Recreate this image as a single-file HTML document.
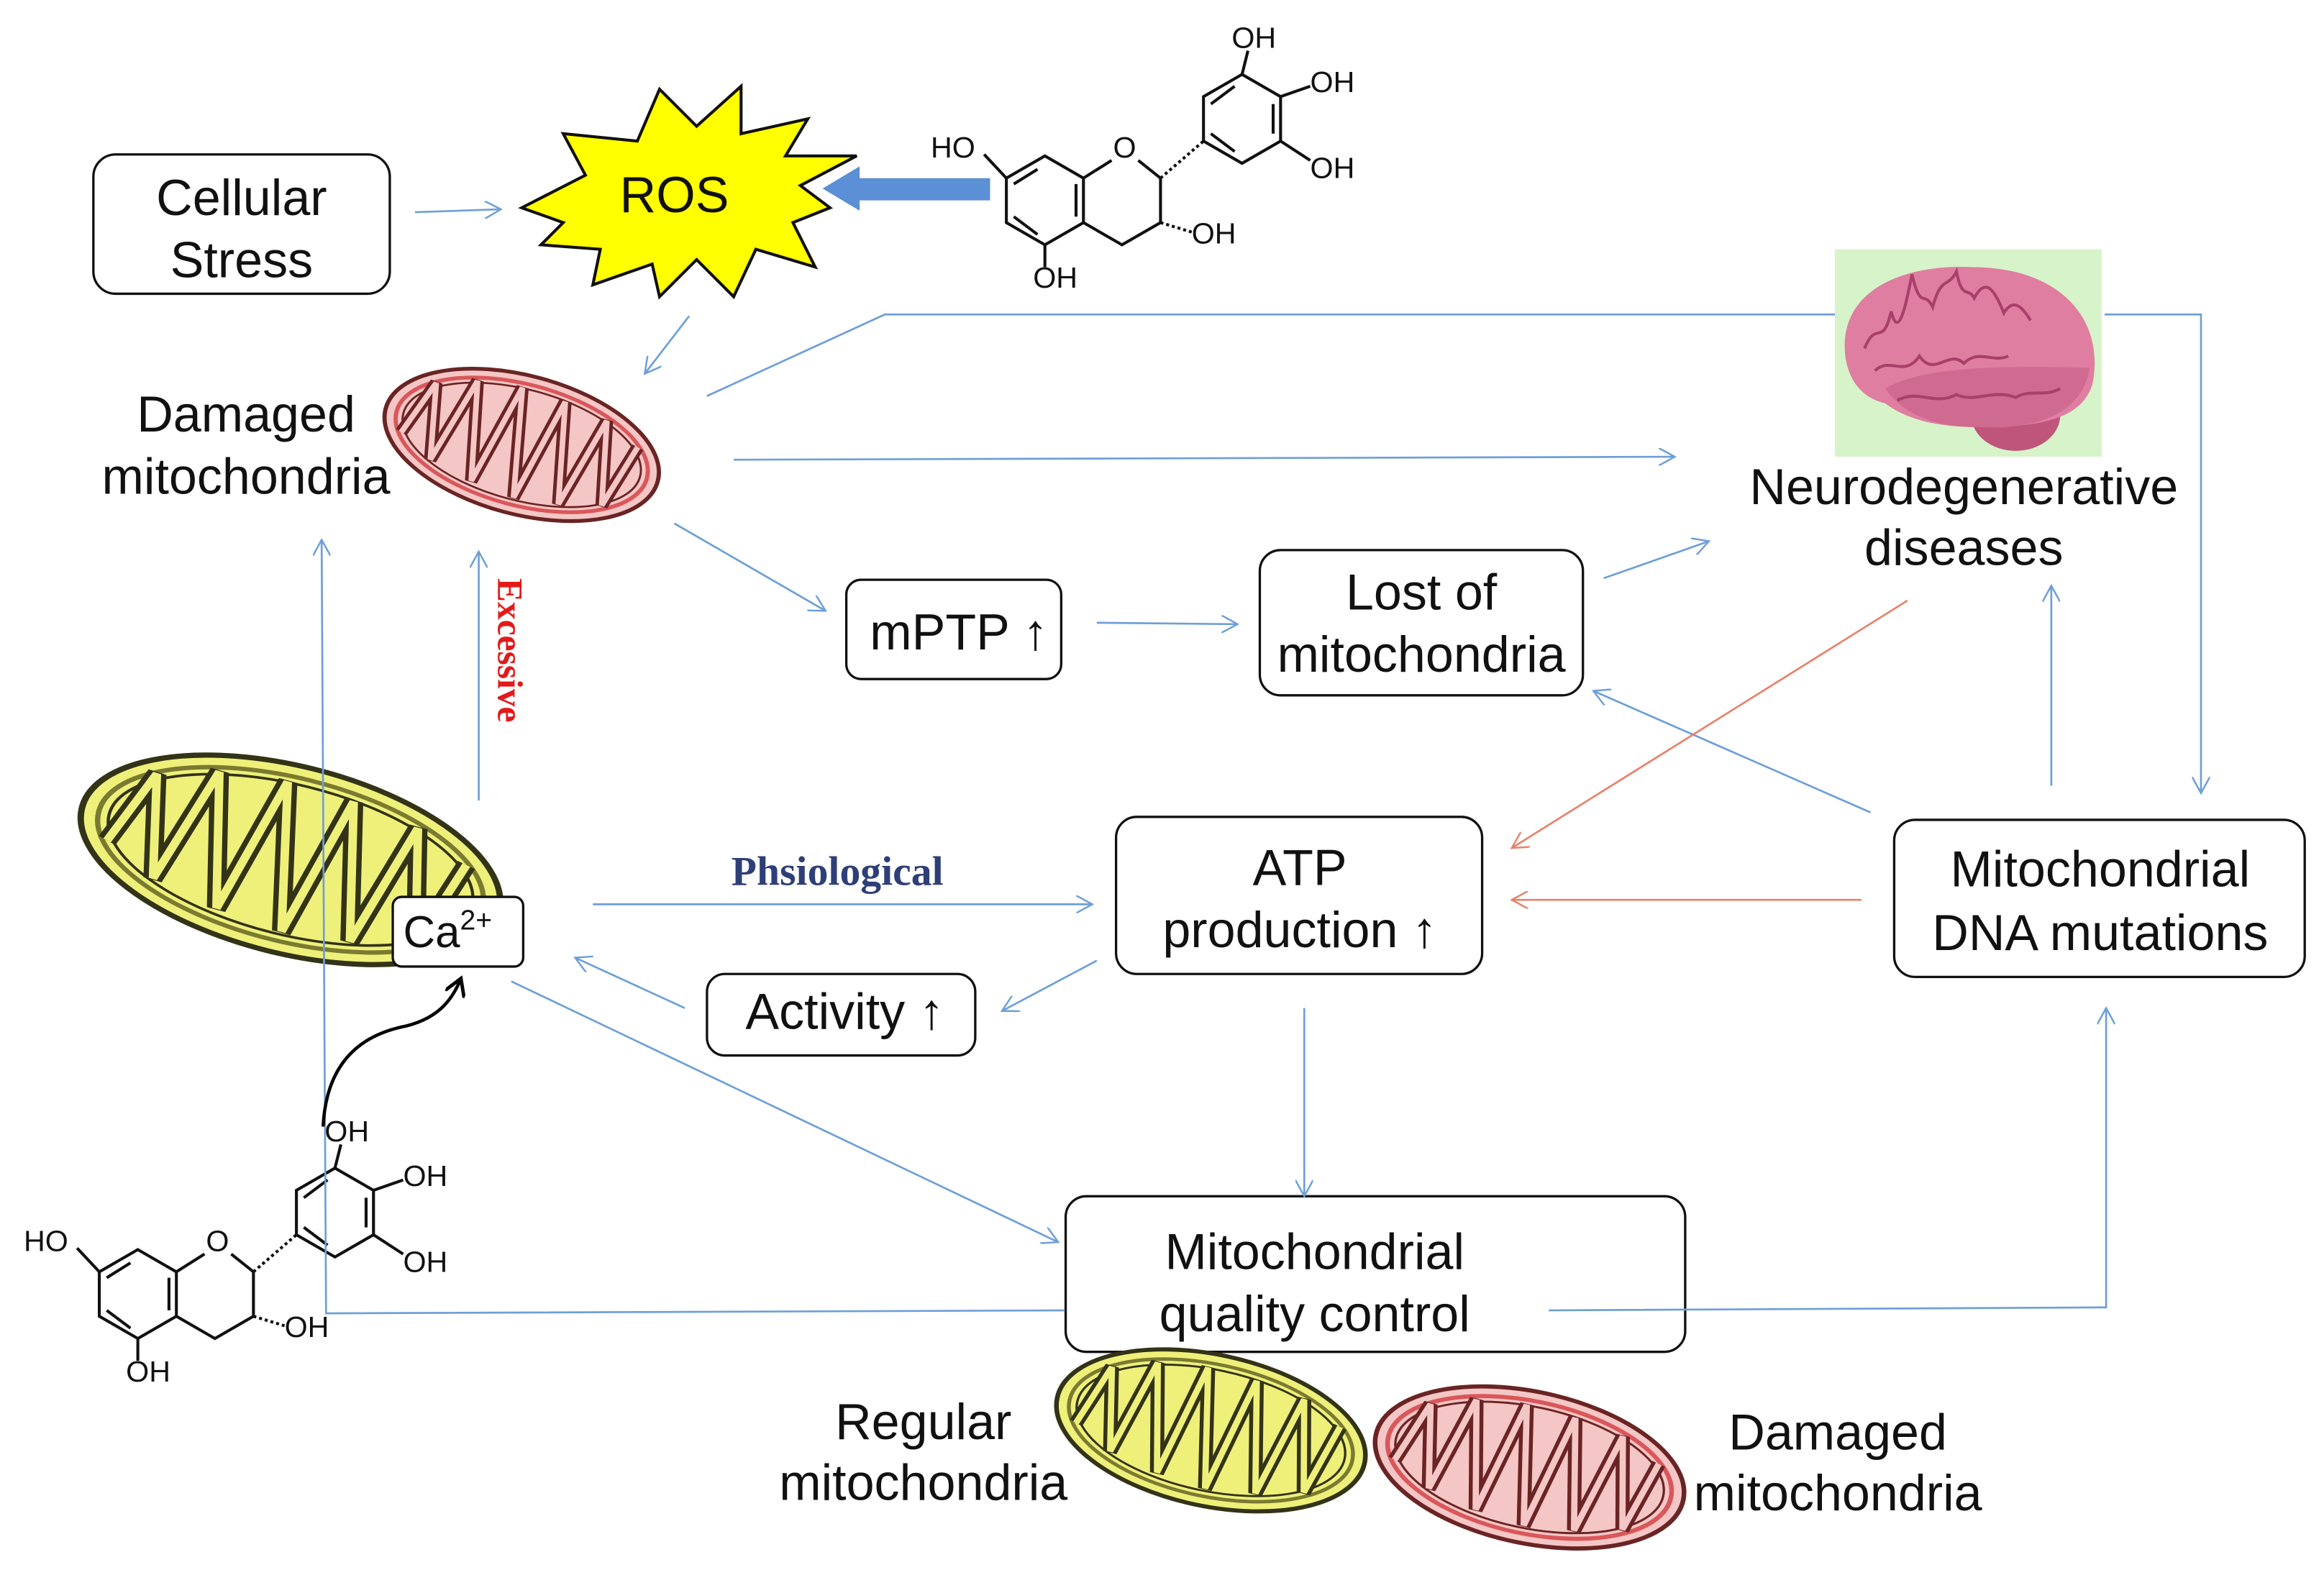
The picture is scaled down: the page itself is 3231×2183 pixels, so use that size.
<!DOCTYPE html>
<html><head><meta charset="utf-8"><style>
html,body{margin:0;padding:0;background:#fff;width:3231px;height:2183px;overflow:hidden}
svg{display:block}
text{font-family:"Liberation Sans",sans-serif;fill:#111}
</style></head><body>
<svg width="3231" height="2183" viewBox="0 0 1568 1059" xmlns="http://www.w3.org/2000/svg">
<defs>
<marker id="ab" viewBox="0 0 12 12" refX="11" refY="6" markerWidth="12" markerHeight="12" markerUnits="userSpaceOnUse" orient="auto"><path d="M0,0 L11,6 L0,12" fill="none" stroke="#6e9fd8" stroke-width="1.2"/></marker>
<marker id="ao" viewBox="0 0 12 12" refX="11" refY="6" markerWidth="12" markerHeight="12" markerUnits="userSpaceOnUse" orient="auto"><path d="M0,0 L11,6 L0,12" fill="none" stroke="#e8826a" stroke-width="1.2"/></marker>
<marker id="ak" viewBox="0 0 12 12" refX="10" refY="6" markerWidth="14" markerHeight="14" markerUnits="userSpaceOnUse" orient="auto"><path d="M0,0 L10,6 L0,12" fill="none" stroke="#000" stroke-width="2"/></marker>
<path id="crp" d="M-85,15 L-70,-30 L-60,30 L-42,-40 L-28,38 L-10,-44 L4,42 L22,-42 L36,38 L54,-36 L66,30 L80,-22" fill="none"/>
<g id="mpink">
<ellipse cx="0" cy="0" rx="100" ry="55" fill="#f5c6c6" stroke="#6a2424" stroke-width="3"/>
<ellipse cx="0" cy="0" rx="92" ry="48" fill="none" stroke="#d9575a" stroke-width="3"/>
<ellipse cx="0" cy="0" rx="87" ry="44" fill="none" stroke="#6a2424" stroke-width="1.5"/>
<use href="#crp" stroke="#6a2424" stroke-width="9"/>
<use href="#crp" stroke="#f5c6c6" stroke-width="4"/>
</g>
<g id="myel">
<ellipse cx="0" cy="0" rx="100" ry="55" fill="#eef07a" stroke="#333318" stroke-width="3"/>
<ellipse cx="0" cy="0" rx="92" ry="48" fill="none" stroke="#7a7a30" stroke-width="2.5"/>
<ellipse cx="0" cy="0" rx="87" ry="44" fill="none" stroke="#333318" stroke-width="1.5"/>
<use href="#crp" stroke="#333318" stroke-width="9"/>
<use href="#crp" stroke="#eef07a" stroke-width="4"/>
</g>
<g id="mol" stroke="#111" stroke-width="2" fill="none">
<polygon points="705,105 731,120 731,150 705,165 679,150 679,120"/>
<line x1="684" y1="124" x2="700" y2="114"/><line x1="684" y1="146" x2="700" y2="158"/><line x1="726" y1="124" x2="726" y2="146"/>
<polyline points="731,120 750,108"/><polyline points="768,108 783,120 783,150 757,165 731,150"/>
<polygon points="838,50 864,65 864,95 838,110 812,95 812,65"/>
<line x1="817" y1="70" x2="833" y2="58"/><line x1="859" y1="70" x2="859" y2="90"/><line x1="817" y1="90" x2="833" y2="102"/>
<line x1="783" y1="120" x2="812" y2="95" stroke-dasharray="2,2"/>
<line x1="783" y1="150" x2="806" y2="157" stroke-dasharray="2,2"/>
<line x1="679" y1="120" x2="664" y2="104"/>
<line x1="705" y1="165" x2="705" y2="180"/>
<line x1="838" y1="50" x2="842" y2="34"/>
<line x1="864" y1="65" x2="884" y2="58"/>
<line x1="864" y1="95" x2="884" y2="108"/>
</g>
<g id="moltx">
<text x="628" y="106" style="font-size:20px">HO</text>
<text x="751" y="106" style="font-size:20px">O</text>
<text x="697" y="194" style="font-size:20px">OH</text>
<text x="804" y="164" style="font-size:20px">OH</text>
<text x="831" y="32" style="font-size:20px">OH</text>
<text x="884" y="62" style="font-size:20px">OH</text>
<text x="884" y="120" style="font-size:20px">OH</text>
</g>
</defs>

<use href="#mol"/><use href="#moltx"/>
<g transform="translate(-612,738)"><use href="#mol"/><use href="#moltx"/></g>

<polygon points="352,140 395,118 380,90 430,95 445,60 470,85 500,58 500,90 545,80 530,105 578,105 540,125 560,140 535,150 550,180 510,168 495,200 470,175 445,200 440,178 400,192 405,168 365,165 380,150" fill="#ffff00" stroke="#111" stroke-width="2"/>
<text x="455" y="143" text-anchor="middle" style="font-size:34px">ROS</text>
<polygon points="668,120 580,120 580,112 555,127 580,142 580,135 668,135" fill="#5b8fd6"/>

<g fill="#fff" stroke="#111" stroke-width="1.6">
<rect x="63" y="104" width="200" height="94" rx="15"/>
<rect x="571" y="391" width="145" height="67" rx="10"/>
<rect x="850" y="371" width="218" height="98" rx="14"/>
<rect x="753" y="551" width="247" height="106" rx="14"/>
<rect x="1278" y="553" width="277" height="106" rx="14"/>
<rect x="477" y="657" width="181" height="55" rx="12"/>
<rect x="719" y="807" width="418" height="105" rx="14"/>
</g>
<g style="font-size:34px" text-anchor="middle">
<text x="163" y="145">Cellular</text><text x="163" y="187">Stress</text>
<text x="647" y="438">mPTP ↑</text>
<text x="959" y="411">Lost of</text><text x="959" y="453">mitochondria</text>
<text x="877" y="597">ATP</text><text x="877" y="639">production ↑</text>
<text x="1417" y="598">Mitochondrial</text><text x="1417" y="641">DNA mutations</text>
<text x="570" y="694">Activity ↑</text>
<text x="887" y="856">Mitochondrial</text><text x="887" y="898">quality control</text>
<text x="166" y="291">Damaged</text><text x="166" y="333">mitochondria</text>
<text x="1325" y="340">Neurodegenerative</text><text x="1325" y="381">diseases</text>
<text x="623" y="971">Regular</text><text x="623" y="1012">mitochondria</text>
<text x="1240" y="978">Damaged</text><text x="1240" y="1019">mitochondria</text>
</g>

<rect x="1238" y="168" width="180" height="140" fill="#d7f3c9"/>
<ellipse cx="1360" cy="280" rx="30" ry="24" fill="#c0557c"/>
<path d="M1245,240 C1240,195 1285,178 1330,180 C1390,180 1420,215 1412,258 C1405,285 1370,288 1335,288 C1305,288 1285,282 1272,272 C1255,268 1247,255 1245,240 Z" fill="#e07ea1"/>
<path d="M1272,262 C1295,248 1345,246 1410,248 C1405,280 1372,290 1335,288 C1305,288 1285,280 1272,262Z" fill="#cf6a90"/>
<g fill="none" stroke="#a8406a" stroke-width="2">
<path d="M1258,235 c8,-20 12,0 18,-25 c5,20 10,-5 14,-25 c6,25 8,10 14,22 c6,-22 10,-12 16,-24 c4,20 8,10 12,18 c8,-15 14,-5 20,10 c6,-10 12,-5 18,5"/>
<path d="M1280,270 c15,-8 25,4 40,-4 c12,6 25,-4 40,2 c10,-6 20,0 30,-6"/>
<path d="M1265,250 c10,-10 20,5 30,-10 c10,15 20,-5 30,5 c10,-10 20,0 30,-5"/>
</g>

<g transform="translate(352,300) rotate(15) scale(0.95,0.85)"><use href="#mpink"/></g>
<g transform="translate(196,580) rotate(14) scale(1.45,1.15)"><use href="#myel"/></g>
<g transform="translate(817,965) rotate(12) scale(1.06,0.93)"><use href="#myel"/></g>
<g transform="translate(1032,990) rotate(12) scale(1.06,0.93)"><use href="#mpink"/></g>

<rect x="265" y="605" width="88" height="47" rx="6" fill="#fff" stroke="#111" stroke-width="1.6"/>
<text x="272" y="639" style="font-size:30px">Ca<tspan dy="-12" style="font-size:19px">2+</tspan></text>

<g fill="none" stroke="#6e9fd8" stroke-width="1.3" marker-end="url(#ab)">
<line x1="280" y1="143" x2="338" y2="141"/>
<line x1="465" y1="213" x2="435" y2="252"/>
<polyline points="1238,212 597,212 477,267" marker-end="none"/>
<polyline points="1420,212 1485,212 1485,535"/>
<line x1="495" y1="310" x2="1130" y2="308"/>
<line x1="455" y1="353" x2="557" y2="412"/>
<line x1="740" y1="420" x2="835" y2="421"/>
<line x1="1082" y1="390" x2="1153" y2="365"/>
<line x1="1384" y1="530" x2="1384" y2="395"/>
<line x1="1262" y1="548" x2="1075" y2="466"/>
<line x1="400" y1="610" x2="737" y2="610"/>
<line x1="740" y1="648" x2="676" y2="682"/>
<line x1="462" y1="680" x2="388" y2="646"/>
<line x1="880" y1="680" x2="880" y2="807"/>
<line x1="345" y1="662" x2="714" y2="838"/>
<polyline points="718,884 220,886 217,364"/>
<polyline points="1045,884 1421,882 1421,680"/>
<line x1="323" y1="540" x2="323" y2="372"/>
</g>
<g fill="none" stroke="#e8826a" stroke-width="1.3" marker-end="url(#ao)">
<line x1="1287" y1="405" x2="1020" y2="572"/>
<line x1="1256" y1="607" x2="1020" y2="607"/>
</g>
<path d="M218,760 C220,720 240,700 270,693 C295,688 305,675 311,660" fill="none" stroke="#000" stroke-width="2.2" marker-end="url(#ak)"/>

<text x="565" y="597" text-anchor="middle" style="font-family:'Liberation Serif',serif;font-weight:bold;font-size:28px;fill:#2e3f78">Phsiological</text>
<text transform="translate(336,390) rotate(90)" style="font-family:'Liberation Serif',serif;font-weight:bold;font-size:24px;fill:#e21a1a">Excessive</text>
</svg>
</body></html>
